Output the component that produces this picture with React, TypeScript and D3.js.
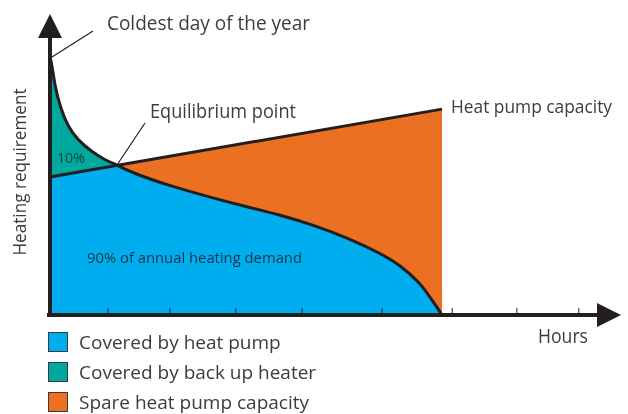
import React from 'react';
import * as d3 from 'd3';

// Load duration curve, both axes in percent of full scale
const demandHours = [0, 0.5, 1.3, 2.6, 4.6, 7.1, 10.7, 14, 17.1, 21.2, 29.8, 41.6, 50.3, 58.7, 67.1, 75.8, 84.2, 89.3, 94.4, 96.9, 98.7, 100];
const demandValues = [100, 96.9, 88.4, 80.6, 72.9, 67.8, 63.2, 60.1, 58.1, 55, 50.4, 45.3, 41.9, 38.8, 34.9, 30, 24, 19.4, 12.4, 7, 3.1, 0];
const capacityHours = [0, 100];
const capacityValues = [53.5, 79.8];
const tickHours = [14.8, 30.6, 47.4, 64.3, 84.7, 102.6, 119.1, 134.9];
const legendLabels = ['Covered by heat pump', 'Covered by back up heater', 'Spare heat pump capacity'];
const legendColors = ['#00aeef', '#00a99d', '#ec7022'];

const W = 628;
const H = 414;
const INK = '#231f20';
const TEXT = '#3c3c3c';
const FONT = '"Open Sans", "Noto Sans", sans-serif';

const x = d3.scaleLinear().domain([0, 100]).range([50, 442]);
const y = d3.scaleLinear().domain([0, 100]).range([315, 57]);

const demand = demandHours.map((h, i) => ({ h, v: demandValues[i] }));
const capacity = capacityHours.map((h, i) => ({ h, v: capacityValues[i] }));

const App: React.FC = () => {
  const curve = d3.curveBasis;
  const demandArea = d3.area<{ h: number; v: number }>()
    .x(d => x(d.h)).y0(y(0)).y1(d => y(d.v))
    .curve(curve);
  const capArea = d3.area<{ h: number; v: number }>()
    .x(d => x(d.h)).y0(y(0)).y1(d => y(d.v));
  const demandLine = d3.line<{ h: number; v: number }>()
    .x(d => x(d.h)).y(d => y(d.v))
    .curve(curve);
  const capLine = d3.line<{ h: number; v: number }>()
    .x(d => x(d.h)).y(d => y(d.v));

  const x0 = x(0);
  const y0 = y(0);
  const xEnd = 621;
  const yEnd = 14;
  const head = 24;
  const half = 12;

  return (
    <div style={{ position: 'fixed', left: 0, top: 0 }}>
      <svg width={W} height={H} style={{ display: 'block' }} fontFamily={FONT}>
        <defs>
          <clipPath id="under-cap">
            <path d={capArea(capacity) || ''} />
          </clipPath>
        </defs>

        {/* regions */}
        <path d={capArea(capacity) || ''} fill={legendColors[2]} />
        <path d={demandArea(demand) || ''} fill={legendColors[1]} />
        <path d={demandArea(demand) || ''} fill={legendColors[0]} clipPath="url(#under-cap)" />

        {/* curves */}
        <path d={capLine(capacity) || ''} fill="none" stroke={INK} strokeWidth={3} />
        <path d={demandLine(demand) || ''} fill="none" stroke={INK} strokeWidth={3} />

        {/* ticks */}
        {tickHours.map((t, i) => (
          <line key={i} x1={x(t)} x2={x(t)} y1={y0 - 7} y2={y0} stroke={INK} strokeWidth={1} />
        ))}

        {/* axes with arrows */}
        <line x1={x0} x2={x0} y1={y0 + 2} y2={yEnd + head - 2} stroke={INK} strokeWidth={4} />
        <polygon points={`${x0},${yEnd} ${x0 - half},${yEnd + head} ${x0 + half},${yEnd + head}`} fill={INK} />
        <line x1={x0 - 3} x2={xEnd - head + 2} y1={y0} y2={y0} stroke={INK} strokeWidth={4} />
        <polygon points={`${xEnd},${y0} ${xEnd - head},${y0 - half} ${xEnd - head},${y0 + half}`} fill={INK} />

        {/* annotations */}
        <line x1={93} y1={31} x2={x0 + 2} y2={y(100)} stroke={INK} strokeWidth={1.2} />
        <text x={107} y={30} fontSize={20} fill={TEXT} textLength={203} lengthAdjust="spacingAndGlyphs">Coldest day of the year</text>
        <line x1={145} y1={123} x2={117} y2={165} stroke={INK} strokeWidth={1.2} />
        <text x={150} y={118} fontSize={20} fill={TEXT} textLength={146} lengthAdjust="spacingAndGlyphs">Equilibrium point</text>
        <text x={451} y={113} fontSize={19} fill={TEXT} textLength={161} lengthAdjust="spacingAndGlyphs">Heat pump capacity</text>
        <text x={57} y={163} fontSize={14} fill="#1f3e42" textLength={28} lengthAdjust="spacingAndGlyphs">10%</text>
        <text x={87} y={263} fontSize={14.5} fill="#1c3446" textLength={215} lengthAdjust="spacingAndGlyphs">90% of annual heating demand</text>
        <text x={538} y={343} fontSize={20} fill={TEXT} textLength={50} lengthAdjust="spacingAndGlyphs">Hours</text>
        <text transform="translate(26,172) rotate(-90)" textAnchor="middle" fontSize={19} fill={TEXT} textLength={167} lengthAdjust="spacingAndGlyphs">Heating requirement</text>

        {/* legend */}
        {legendLabels.map((l, i) => (
          <g key={l} transform={`translate(48,${332 + i * 30})`}>
            <rect x={0.5} y={0.5} width={19} height={19} fill={legendColors[i]} stroke="#3a3a3a" strokeWidth={1} />
            <text x={31} y={17} fontSize={19} fill={TEXT}>{l}</text>
          </g>
        ))}
      </svg>
    </div>
  );
};

export default App;
